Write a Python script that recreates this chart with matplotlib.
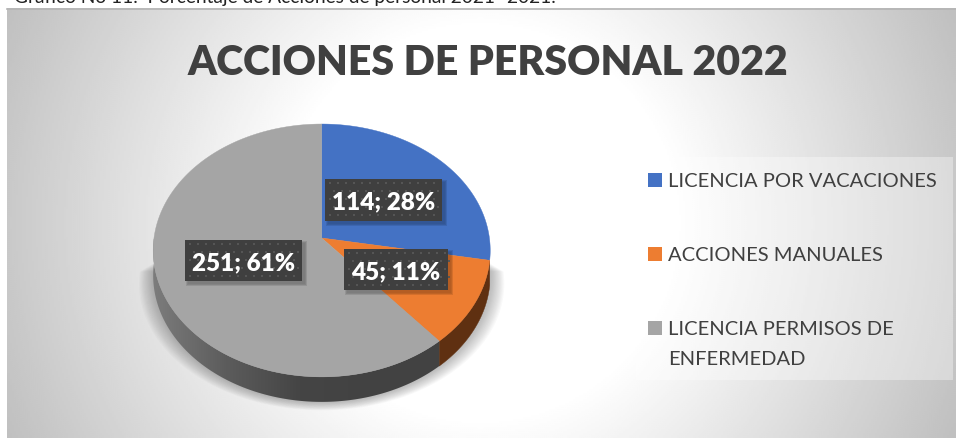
import numpy as np
import matplotlib
matplotlib.use("Agg")
import matplotlib.pyplot as plt
from matplotlib.patches import Rectangle, Polygon
from matplotlib.colors import LinearSegmentedColormap

title = "ACCIONES DE PERSONAL 2022"
caption = "Gráfico No 11.  Porcentaje de Acciones de personal 2021- 2021."
categories = ["LICENCIA POR VACACIONES", "ACCIONES MANUALES", "LICENCIA PERMISOS DE\nENFERMEDAD"]
values = [114, 45, 251]
percents = [28, 11, 61]
top_colors = ["#4472C4", "#ED7D31", "#A5A5A5"]
orange_side = "#5F3011"

plt.rcParams['font.family'] = ['Lato', 'DejaVu Sans']
W, H = 956, 439
fig = plt.figure(figsize=(W/100, H/100), dpi=100, facecolor='white')
ax = fig.add_axes([0, 0, 1, 1])
ax.set_xlim(0, W); ax.set_ylim(H, 0); ax.axis('off')

# chart background
X0, X1, Y0, Y1 = 7, 956, 9, 439
xx, yy = np.meshgrid(np.linspace(X0, X1, 475), np.linspace(Y0, Y1, 215))
r = np.hypot(xx-480, yy-224)/518
g = 255 - 63*np.clip((r-0.38)/0.62, 0, 1)
ax.imshow(g/255, extent=(X0, X1, Y1, Y0), cmap='gray', vmin=0, vmax=1, aspect='auto', zorder=0)
ax.plot([X0, X1], [9.5, 9.5], color='#b4b4b4', lw=1.2, zorder=1)

# pie geometry
CX, CY, A, B, K, DEPTH = 321.7, 239, 167.7, 125.2, 0.0985, 25

def project(theta):
    u, v = np.sin(theta), np.cos(theta)
    d = 1 + K*v
    return CX + A*u/d, CY - B*v/d

# soft shadow under pie
shadow_clip = Rectangle((130, 250), 400, 162, transform=ax.transData)
for i in range(14):
    t = i/13
    grow = 14*(1-t)
    th = np.linspace(np.pi/2, 3*np.pi/2, 120)
    x, y = project(th)
    x = CX + (x-CX)*(1+grow/168); y = y + DEPTH + grow*0.6
    p = Polygon(np.column_stack([x, y]), closed=True, fc='#5a5a5a', ec='none', alpha=0.035, zorder=2)
    ax.add_patch(p); p.set_clip_path(shadow_clip)

# side wall
fractions = np.array(values)/sum(values)
edges = np.r_[0, np.cumsum(fractions)]*2*np.pi

def side_polygon(a, b):
    ths = np.linspace(a, b, 200)
    x, y = project(ths)
    return np.column_stack([np.r_[x, x[::-1]], np.r_[y, y[::-1]+DEPTH]])

ax.add_patch(Polygon(side_polygon(edges[1], edges[2]), closed=True, fc=orange_side, ec=orange_side, lw=0.3, zorder=3))
gray_poly = Polygon(side_polygon(edges[2], 1.5*np.pi), closed=True, transform=ax.transData)
gray_cmap = LinearSegmentedColormap.from_list('s', ['#7c7c7c', '#5c5c5c', '#454545', '#424242'])
im = ax.imshow(np.linspace(0, 1, 256)[None, :], extent=(153, 373, 420, 240), cmap=gray_cmap,
               aspect='auto', zorder=3)
ax.imshow(np.zeros((2, 2)), extent=(373, 445, 420, 240), cmap=LinearSegmentedColormap.from_list('k', ['#424242', '#424242']),
          aspect='auto', zorder=3).set_clip_path(gray_poly)
im.set_clip_path(gray_poly)
ax.set_xlim(0, W); ax.set_ylim(H, 0)

# top faces
for i in range(3):
    ths = np.linspace(edges[i], edges[i+1], 200)
    x, y = project(ths)
    pts = np.column_stack([np.r_[CX, x], np.r_[CY, y]])
    ax.add_patch(Polygon(pts, closed=True, fc=top_colors[i], ec=top_colors[i], lw=0.3, zorder=4))

# data labels
label_boxes = [(325, 180, 117, 42), (344, 250, 104, 41), (185, 241, 117, 41)]
for (bx, by, bw, bh), v, pc in zip(label_boxes, values, percents):
    for s in range(5, 0, -1):
        ax.add_patch(Rectangle((bx+3-s*0.4, by+3-s*0.4), bw+s*0.8, bh+s*0.8, fc='black', ec='none', alpha=0.05, zorder=5))
    ax.add_patch(Rectangle((bx, by), bw, bh, fc='#3F3F3F', ec='none', zorder=6))
    dx = np.arange(bx+5, bx+bw-2, 8.0)
    dy = np.arange(by+4, by+bh-2, 8.0)
    gx, gy = np.meshgrid(dx, dy)
    gx = gx + (np.arange(len(dy))[:, None] % 2)*4
    ax.scatter(gx.ravel(), gy.ravel(), s=3, c='#555555', linewidths=0, marker='s', zorder=7)
    ax.text(bx+bw/2, by+29.5, f"{v}; {pc}%", color='white', fontsize=17.5, fontweight='heavy',
            ha='center', va='baseline', zorder=8)

# title and caption
ax.text(487.5, 75, title, color='#404040', fontsize=29.5, fontweight='heavy', ha='center', va='baseline', zorder=8)
ax.text(14, 2.5, caption, color='#222222', fontsize=13.8, ha='left', va='baseline', zorder=8)

# legend
ax.add_patch(Rectangle((636, 158), 317, 223, fc='white', ec='none', alpha=0.35, zorder=2))
swatch_y = [181, 255, 329]
for y, c, lab in zip(swatch_y, top_colors, categories):
    ax.add_patch(Rectangle((648, y-7), 14, 14, fc=c, ec='none', zorder=4))
    lines = lab.split("\n")
    ax.text(668, y+5.7, lines[0], color='#404040', fontsize=14.5, ha='left', va='baseline', zorder=8)
    if len(lines) > 1:
        ax.text(668, y+36, lines[1], color='#404040', fontsize=14.5, ha='left', va='baseline', zorder=8)

fig.savefig('out.png', dpi=100, facecolor='white')
